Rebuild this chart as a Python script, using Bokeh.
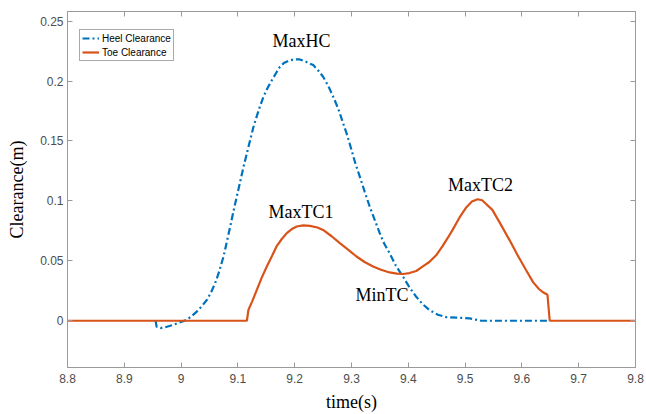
from bokeh.plotting import figure
from bokeh.models import ColumnDataSource, LinearAxis, FixedTicker, Range1d, Legend, LegendItem
from bokeh.core.properties import value
from bokeh.embed import file_html
from bokeh.resources import INLINE

# ---- data ----
heel_t = [8.955, 8.957, 8.9637, 8.975, 8.987, 8.997, 9.0075, 9.018, 9.028, 9.037, 9.0456, 9.053,
          9.060, 9.067, 9.0747, 9.0806, 9.0865, 9.092, 9.098, 9.104, 9.110, 9.116, 9.1216, 9.127,
          9.133, 9.139, 9.145, 9.152, 9.160, 9.167, 9.174, 9.181, 9.189, 9.198, 9.209, 9.22,
          9.2326, 9.241, 9.250, 9.259, 9.2677, 9.277, 9.2853, 9.293, 9.300, 9.307, 9.3146, 9.323,
          9.332, 9.341, 9.3497, 9.358, 9.367, 9.378, 9.3905, 9.402, 9.414, 9.425, 9.437, 9.452,
          9.467, 9.49, 9.508, 9.518, 9.528, 9.648]
heel_y = [0.0, -0.005, -0.0061, -0.005, -0.0033, -0.0015, 0.0003, 0.0035, 0.0078, 0.0125, 0.0175, 0.024,
          0.0314, 0.041, 0.0536, 0.066, 0.0786, 0.091, 0.1036, 0.116, 0.1286, 0.140, 0.1508, 0.161,
          0.1703, 0.179, 0.1869, 0.194, 0.2008, 0.2065, 0.2119, 0.215, 0.2169, 0.218, 0.218, 0.216,
          0.2133, 0.209, 0.2036, 0.196, 0.187, 0.1765, 0.1647, 0.154, 0.1425, 0.131, 0.1203, 0.108,
          0.0953, 0.084, 0.0731, 0.064, 0.0564, 0.046, 0.0369, 0.028, 0.020, 0.014, 0.009, 0.005,
          0.003, 0.0025, 0.002, 0.001, 0.0, 0.0]

toe_t = [8.8, 9.1158, 9.1186, 9.125, 9.1333, 9.142, 9.1509, 9.16, 9.168, 9.177, 9.186, 9.195,
         9.2035, 9.215, 9.2268, 9.24, 9.25, 9.265, 9.2795, 9.295, 9.3088, 9.323, 9.338, 9.352,
         9.367, 9.38, 9.3905, 9.402, 9.414, 9.4256, 9.437, 9.449, 9.46, 9.47, 9.478, 9.49, 9.502,
         9.512, 9.522, 9.53, 9.538, 9.548, 9.562, 9.578, 9.592, 9.607, 9.62, 9.63, 9.638, 9.645,
         9.649, 9.8]
toe_y = [0.0, 0.0, 0.0092, 0.016, 0.0258, 0.036, 0.0453, 0.054, 0.062, 0.068, 0.0731, 0.0765,
         0.0786, 0.0795, 0.0792, 0.0778, 0.0758, 0.0705, 0.0647, 0.059, 0.0536, 0.049, 0.0453, 0.0425,
         0.0403, 0.0393, 0.0390, 0.0398, 0.0415, 0.0453, 0.049, 0.0546, 0.062, 0.0695, 0.0758, 0.086, 0.0945,
         0.0995, 0.1014, 0.1005, 0.097, 0.0925, 0.081, 0.0675, 0.055, 0.0425, 0.032, 0.0265, 0.0235, 0.0217,
         0.0, 0.0]

label_text = ["MaxHC", "MaxTC1", "MaxTC2", "MinTC"]
label_t = [9.212, 9.211, 9.527, 9.3535]
label_y = [0.2333, 0.0904, 0.1129, 0.0217]

x_ticks = [8.8, 8.9, 9.0, 9.1, 9.2, 9.3, 9.4, 9.5, 9.6, 9.7, 9.8]
x_tick_labels = ["8.8", "8.9", "9", "9.1", "9.2", "9.3", "9.4", "9.5", "9.6", "9.7", "9.8"]
y_ticks = [0.0, 0.05, 0.1, 0.15, 0.2, 0.25]
y_tick_labels = ["0", "0.05", "0.1", "0.15", "0.2", "0.25"]

series_names = ["Heel Clearance", "Toe Clearance"]
colors = ["#0072BD", "#D95319"]

# ---- figure ----
p = figure(width=646, height=414, output_backend="svg", toolbar_location=None,
           x_range=Range1d(8.8, 9.8), y_range=Range1d(-0.039, 0.258),
           min_border_left=67, min_border_right=11, min_border_top=11, min_border_bottom=46,
           x_axis_label="time(s)", y_axis_label="Clearance(m)")
p.background_fill_color = "white"
p.border_fill_color = "white"
p.xgrid.visible = False
p.ygrid.visible = False
p.outline_line_color = "#9a9a9a"
p.outline_line_width = 1

axis_col = "#9a9a9a"
lab_col = "#4d4d4d"

for ax, ticks, labels in [(p.xaxis[0], x_ticks, x_tick_labels), (p.yaxis[0], y_ticks, y_tick_labels)]:
    ax.ticker = FixedTicker(ticks=ticks)
    ax.major_label_overrides = {t: l for t, l in zip(ticks, labels)}
    ax.minor_tick_line_color = None
    ax.major_tick_in = 5
    ax.major_tick_out = 0
    ax.axis_line_color = axis_col
    ax.major_tick_line_color = axis_col
    ax.major_label_text_color = lab_col
    ax.major_label_text_font = "Liberation Sans"
    ax.major_label_text_font_size = "12px"
    ax.axis_label_text_font = "Liberation Serif"
    ax.axis_label_text_font_size = "18px"
    ax.axis_label_text_font_style = "normal"
    ax.axis_label_text_color = "black"

p.xaxis[0].major_label_standoff = 6
p.xaxis[0].axis_label_standoff = 6
p.yaxis[0].major_label_standoff = 4
p.yaxis[0].axis_label_standoff = 10

# box ticks on top and right (no labels)
for loc, ticks in [("above", x_ticks), ("right", y_ticks)]:
    ax = LinearAxis(ticker=FixedTicker(ticks=ticks))
    ax.major_label_text_color = None
    ax.major_label_text_font_size = "1px"
    ax.major_label_standoff = 0
    ax.minor_tick_line_color = None
    ax.major_tick_in = 5
    ax.major_tick_out = 0
    ax.axis_line_color = axis_col
    ax.major_tick_line_color = axis_col
    p.add_layout(ax, loc)

heel_src = ColumnDataSource(dict(t=heel_t, y=heel_y))
toe_src = ColumnDataSource(dict(t=toe_t, y=toe_y))

r_heel = p.line("t", "y", source=heel_src, line_color=colors[0], line_width=2.2,
                line_dash="7 3 2 3")
r_toe = p.line("t", "y", source=toe_src, line_color=colors[1], line_width=2.2)

lab_src = ColumnDataSource(dict(x=label_t, y=label_y, text=label_text))
p.text("x", "y", text="text", source=lab_src, text_align="center", text_baseline="middle",
       text_font=value("Liberation Serif"), text_font_size="18px", text_color="black")

legend = Legend(items=[LegendItem(label=series_names[0], renderers=[r_heel]),
                       LegendItem(label=series_names[1], renderers=[r_toe])],
                location=(12, 306))
legend.label_text_font = "Liberation Sans"
legend.label_text_font_size = "10px"
legend.label_text_color = "black"
legend.glyph_width = 17
legend.glyph_height = 12
legend.label_height = 12
legend.label_standoff = 3
legend.padding = 2
legend.spacing = 2
legend.margin = 0
legend.border_line_color = "#555555"
legend.border_line_width = 1
legend.background_fill_alpha = 1
p.add_layout(legend, "center")

open("out.html", "w").write(file_html(p, INLINE))
